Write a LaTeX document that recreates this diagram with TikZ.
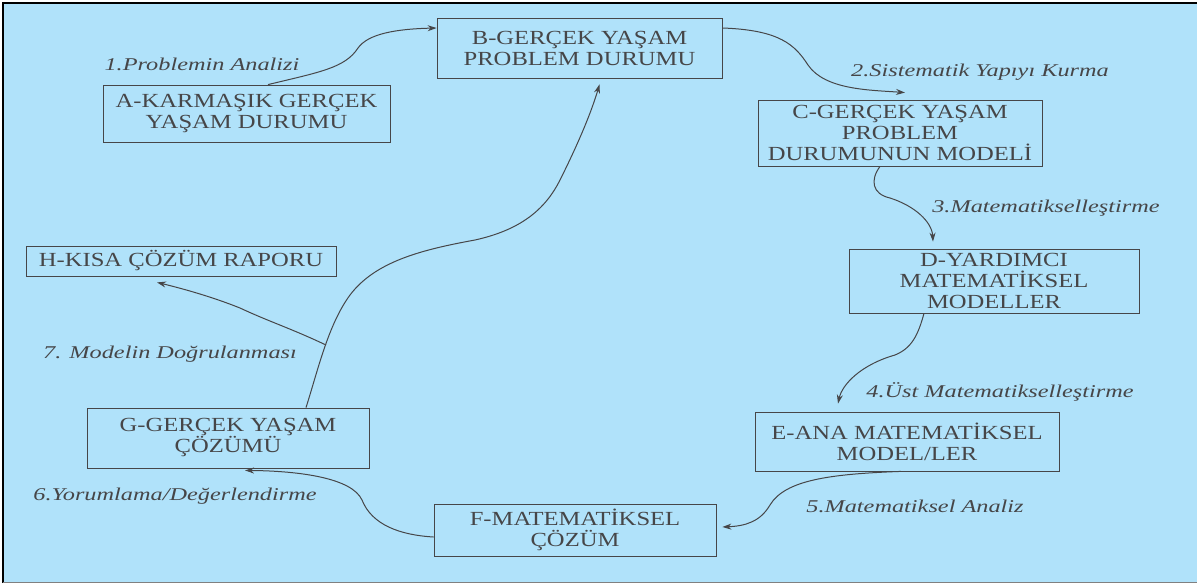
\documentclass[tikz,border=0pt]{standalone}
\usepackage{fontspec}
\setmainfont{Liberation Serif}
\newfontfamily\boxfnt[FakeStretch=1.23]{Liberation Serif}
\newfontfamily\lblfnt[FakeStretch=1.35]{Liberation Serif}
\usetikzlibrary{arrows.meta}
\definecolor{bgblue}{RGB}{176,226,250}
\definecolor{ink}{RGB}{70,70,72}
\tikzset{
  stagebox/.style={draw=ink, line width=0.8pt, text=ink, inner sep=0pt, align=center,
    font={\boxfnt\fontsize{20}{21}\selectfont}},
  steplabel/.style={text=ink, inner sep=0pt, font={\lblfnt\fontsize{18}{20}\selectfont\itshape}},
  flow/.style={draw=ink, line width=1pt, -{Stealth[length=9pt,width=6pt]}},
}
\begin{document}
\begin{tikzpicture}[x=1pt,y=-1pt]
\useasboundingbox (0,0) rectangle (1197,584);
\fill[white] (0,0) rectangle (1197,584);
\fill[bgblue] (3,3) rectangle (1197,582);
\draw[black, line width=2pt] (3,583) -- (3,3) -- (1197,3);
\draw[gray, line width=1.5pt] (3,582.5) -- (1197,582.5);

% boxes
\node[stagebox, minimum width=287pt, minimum height=57pt] (A) at (246.5,113.5) {A-KARMAŞIK GERÇEK\\YAŞAM DURUMU};
\node[stagebox, minimum width=285pt, minimum height=60pt] (B) at (579.5,48) {B-GERÇEK YAŞAM\\PROBLEM DURUMU};
\node[stagebox, minimum width=284pt, minimum height=66pt] (C) at (900,133) {C-GERÇEK YAŞAM\\PROBLEM\\DURUMUNUN MODELİ};
\node[stagebox, minimum width=290pt, minimum height=64pt] (D) at (994,281) {D-YARDIMCI\\MATEMATİKSEL\\MODELLER};
\node[stagebox, minimum width=304pt, minimum height=59pt] (E) at (907,441.5) {E-ANA MATEMATİKSEL\\MODEL/LER};
\node[stagebox, minimum width=282pt, minimum height=52pt] (F) at (575,530) {F-MATEMATİKSEL\\ÇÖZÜM};
\node[stagebox, minimum width=282pt, minimum height=60pt] (G) at (228,438) {G-GERÇEK YAŞAM\\ÇÖZÜMÜ};
\node[stagebox, minimum width=310pt, minimum height=30pt] (H) at (181,261) {H-KISA ÇÖZÜM RAPORU};

% labels
\node[steplabel] (l1) at (202,64) {1.Problemin Analizi};
\node[steplabel] (l2) at (980,72) {2.Sistematik Yapıyı Kurma};
\node[steplabel] (l3) at (1046,208) {3.Matematikselleştirme};
\node[steplabel] (l4) at (1000,392) {4.Üst Matematikselleştirme};
\node[steplabel] (l5) at (915,506) {5.Matematiksel Analiz};
\node[steplabel] (l6) at (175,496) {6.Yorumlama/Değerlendirme};
\node[steplabel] (l7) at (170,354) {7. Modelin Doğrulanması};

% connectors
\draw[flow] ([xshift=21.5pt]A.north) .. controls (320,72) and (345,68) .. (358,48)
  .. controls (368,34) and (395,29) .. ([yshift=20pt]B.west);
\draw[flow] ([yshift=20pt]B.east) .. controls (780,30) and (795,45) .. (808,65)
  .. controls (825,90) and (870,90) .. ([xshift=5pt,yshift=7pt]C.north);
\draw[flow] ([xshift=-20pt]C.south) .. controls (870,180) and (872,194) .. (890,198)
  .. controls (915,206) and (932,222) .. ([xshift=-61pt,yshift=7pt]D.north);
\draw[flow] ([xshift=-70pt]D.south) .. controls (918,335) and (912,348) .. (895,355)
  .. controls (860,365) and (842,385) .. ([xshift=-69pt,yshift=8pt]E.north);
\draw[flow] ([xshift=-6pt]E.south) .. controls (830,474) and (785,480) .. (770,505)
  .. controls (760,522) and (745,526) .. ([xshift=6pt,yshift=3pt]F.east);
\draw[flow] ([yshift=-7pt]F.west) .. controls (400,535) and (372,525) .. (362,500)
  .. controls (352,478) and (300,471) .. ([xshift=17pt,yshift=-2pt]G.south);
\draw[flow] ([xshift=78pt]G.north) .. controls (318,370) and (328,325) .. (350,295)
  .. controls (375,262) and (420,250) .. (475,240)
  .. controls (520,230) and (545,210) .. (560,180)
  .. controls (580,140) and (592,110) .. ([xshift=20pt,yshift=-6pt]B.south);
\coordinate (j) at (326,345);
\draw[flow] (j) .. controls (290,328) and (270,322) .. (240,308)
  .. controls (210,296) and (180,288) .. ([xshift=-24pt,yshift=-6pt]H.south);
\end{tikzpicture}
\end{document}
